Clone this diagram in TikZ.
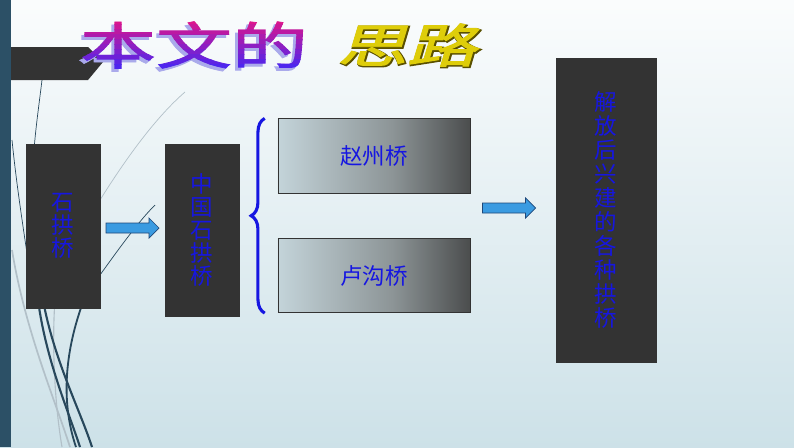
\documentclass[tikz,border=0pt]{standalone}
\usepackage{fontspec}
\setmainfont{Noto Sans CJK SC}
\newfontfamily\titlefont[FakeBold=1.5]{Noto Sans CJK SC}
\newfontfamily\goldfont[FakeSlant=0.2,FakeBold=2]{Noto Sans CJK SC}
\newfontfamily\goldedge[FakeSlant=0.2,FakeBold=4.5]{Noto Sans CJK SC}
\usetikzlibrary{decorations.pathreplacing,calc}
\tikzset{>=latex}

\definecolor{barteal}{RGB}{44,80,102}
\definecolor{boxgray}{RGB}{51,51,51}
\definecolor{textblue}{RGB}{22,22,225}
\definecolor{arrowblue}{RGB}{58,155,225}
\definecolor{arrowedge}{RGB}{30,70,120}
\definecolor{bglow}{RGB}{196,220,228}
\definecolor{boxlight}{RGB}{206,223,229}
\definecolor{boxmid}{RGB}{140,148,150}
\definecolor{boxdark}{RGB}{52,52,52}
\definecolor{wisp}{RGB}{40,72,92}
\definecolor{wispgray}{RGB}{178,192,200}
\definecolor{goldyellow}{RGB}{222,205,10}
\definecolor{goldedgec}{RGB}{90,80,0}
\definecolor{titlepink}{RGB}{235,20,130}
\definecolor{titleblue}{RGB}{60,40,250}
\definecolor{titleshadow}{RGB}{170,170,235}

\pgfdeclareverticalshading{slidebg}{100bp}{color(0bp)=(bglow); color(25bp)=(bglow!85!white); color(80bp)=(white); color(100bp)=(white)}
\pgfdeclarehorizontalshading{bridgeshade}{100bp}{color(0bp)=(boxlight); color(25bp)=(boxlight!95!black); color(55bp)=(boxmid); color(82bp)=(boxdark); color(100bp)=(boxdark)}

\newcommand{\titletext}{\titlefont\fontsize{36}{36}\selectfont\scalebox{1.5}[1]{本文的}}
\newcommand{\silutext}{\fontsize{33}{33}\selectfont\scalebox{1.5}[1]{思路}}

\begin{document}
\begin{tikzpicture}[x=0.025cm,y=-0.025cm,
  darkbox/.style={draw=black!80, fill=boxgray, line width=0.6pt, inner sep=0pt},
  gradbox/.style={draw=black!80, shading=bridgeshade, line width=0.6pt, minimum width=4.8cm, minimum height=1.86cm, text=textblue, font=\fontsize{16}{16}\selectfont},
  vlabel/.style={text=textblue, align=center, font=\fontsize{16}{16.5}\selectfont},
  blockarrow/.style={draw=arrowedge, fill=arrowblue, line width=0.5pt}]
  \useasboundingbox (0,0) rectangle (794,447);
  \shade[shading=slidebg] (0,0) rectangle (794,447);

  \draw[wispgray, line width=1.2pt] (12,250) .. controls (25,330) and (55,400) .. (70,447);
  \draw[wispgray, line width=0.8pt] (55,300) .. controls (52,340) and (54,400) .. (62,447);
  \draw[wispgray, line width=0.5pt] (100,200) .. controls (125,160) and (155,118) .. (185,92);
  \draw[wisp, line width=0.5pt] (42,80) .. controls (39,105) and (36,125) .. (34,150);
  \draw[wisp, line width=0.5pt] (12,140) .. controls (16,180) and (22,220) .. (28,260);
  \draw[wisp, line width=0.5pt] (100,275) .. controls (118,250) and (138,222) .. (155,205);
  \draw[wisp, line width=1.5pt] (38,300) .. controls (46,360) and (68,410) .. (80,447);
  \draw[wisp, line width=1.5pt] (43,300) .. controls (54,360) and (80,410) .. (92,447);
  \draw[wisp, line width=1.3pt] (82,305) .. controls (66,350) and (60,400) .. (76,447);

  \fill[boxgray] (0,47) -- (88,47) -- (103,62) -- (88,80) -- (0,80) -- cycle;
  \fill[barteal] (0,0) rectangle (11,447);

  \node[text=titleshadow, inner sep=0pt] (titleshade) at (191,48) {\titletext};
  \foreach \i in {0,...,11} {
    \pgfmathtruncatemacro{\mix}{100-\i*9}
    \begin{scope}
      \clip (70,{14+\i*5}) rectangle (320,{19.01+\i*5});
      \node[text=titlepink!\mix!titleblue, inner sep=0pt] (title\i) at (194,45) {\titletext};
    \end{scope}
  }
  \node[text=goldedgec, inner sep=0pt] (silu0) at (408,46) {\goldedge\silutext};
  \node[text=goldyellow, inner sep=0pt] (silu) at (407,45) {\goldfont\silutext};

  \node[darkbox, vlabel, minimum width=1.85cm, minimum height=4.1cm] (shigong) at (63,226) {石\\拱\\桥};
  \node[darkbox, vlabel, minimum width=1.85cm, minimum height=4.3cm] (zhongguo) at (202,230) {中\\国\\石\\拱\\桥};
  \node[gradbox] (zhaozhou) at (374,156) {赵州桥};
  \node[gradbox] (lugou) at (374,275.5) {卢沟桥};
  \node[darkbox, vlabel, font=\fontsize{16}{17}\selectfont, minimum width=2.5cm, minimum height=7.6cm] (jiefang) at (606,210) {解\\放\\后\\兴\\建\\的\\各\\种\\拱\\桥};

  \coordinate (arr1) at ($(shigong.east)!0.5!(zhongguo.west)$);
  \coordinate (arr2) at (509,208);
  \foreach \a in {arr1,arr2}
    \filldraw[blockarrow] ([shift={(-26.5,-5)}]\a) -- ++(43,0) -- ++(0,-5) -- ++(10,10) -- ++(-10,10) -- ++(0,-5) -- ++(-43,0) -- cycle;
  \draw[textblue, line width=2.2pt, decorate, decoration={brace, amplitude=0.34cm}] ([xshift=-0.32cm]lugou.south west) -- ([xshift=-0.32cm]zhaozhou.north west);
\end{tikzpicture}
\end{document}
